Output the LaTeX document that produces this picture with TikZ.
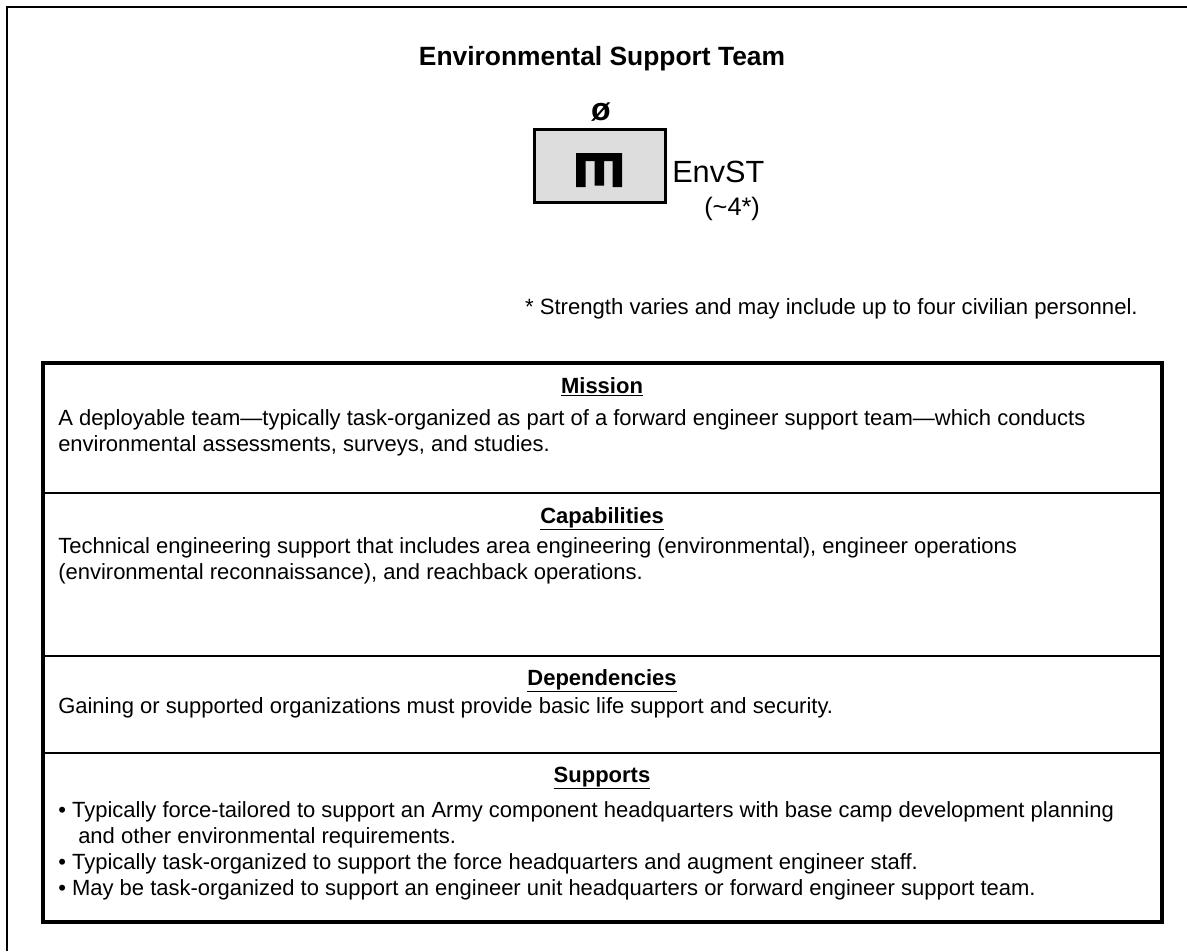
\documentclass[tikz,border=0pt]{standalone}
\usepackage{fontspec}
\setmainfont{Liberation Sans}
\usetikzlibrary{positioning,calc}
\definecolor{unitgray}{RGB}{221,221,221}

\begin{document}
\begin{tikzpicture}[x=0.75pt, y=-0.75pt, every node/.style={inner sep=0pt},
    head/.style={anchor=base, font=\fontsize{16.5}{19.5}\selectfont\bfseries},
    body/.style={anchor=north west, align=left, font=\fontsize{16.5}{19.5}\selectfont, execute at begin node=\strut}]
\useasboundingbox (0,0) rectangle (1187,951);
\draw[line width=2pt] (7,951) -- (7,7) -- (1187,7);

% unit symbol
\node[anchor=base, font=\fontsize{19.8}{24}\selectfont\bfseries] (title) at (602,65) {Environmental Support Team};
\node[draw, line width=2.2pt, fill=unitgray, minimum width=98.25pt, minimum height=54.75pt] (unit) at (599.7,166) {};
\fill (576,153) -- (622,153) -- (622,187) -- (612.5,187) -- (612.5,161) -- (604,161) -- (604,185.5) -- (594.5,185.5) -- (594.5,161) -- (585.5,161) -- (585.5,187) -- (576,187) -- cycle;
\node[anchor=base, font=\fontsize{24}{28}\selectfont\bfseries] (null) at (601,120) {ø};
\node[anchor=west, font=\fontsize{23}{27}\selectfont] (envst) at (672,171.5) {EnvST};
\node[anchor=west, font=\fontsize{19}{23}\selectfont] (strength) at (704,208.5) {(\textasciitilde 4*)};
\node[anchor=base east, font=\fontsize{16.6}{19.5}\selectfont] (note) at (1138,314) {* Strength varies and may include up to four civilian personnel.};

% table
\draw[line width=3pt] (43,363) rectangle (1162,921.5);
\foreach \y in {493,656,753} \draw[line width=1.5pt] (43,\y) -- (1162,\y);

\node[head] (mission) at (602,393) {\underline{Mission}};
\node[body] (missiontext) at (58,408.8) {A deployable team—typically task-organized as part of a forward engineer support team—which conducts\\environmental assessments, surveys, and studies.};
\node[head] (capab) at (602,523) {\underline{Capabilities}};
\node[body] (capabtext) at (58,536.8) {Technical engineering support that includes area engineering (environmental), engineer operations\\(environmental reconnaissance), and reachback operations.};
\node[head] (depend) at (602,685) {\underline{Dependencies}};
\node[body] (dependtext) at (58,694.8) {Gaining or supported organizations must provide basic life support and security.};
\node[head] (supports) at (602,782) {\underline{Supports}};
\node[body] (supportstext) at (58,800.8) {• Typically force-tailored to support an Army component headquarters with base camp development planning\\\hspace*{15pt}and other environmental requirements.\\• Typically task-organized to support the force headquarters and augment engineer staff.\\• May be task-organized to support an engineer unit headquarters or forward engineer support team.};
\end{tikzpicture}
\end{document}
